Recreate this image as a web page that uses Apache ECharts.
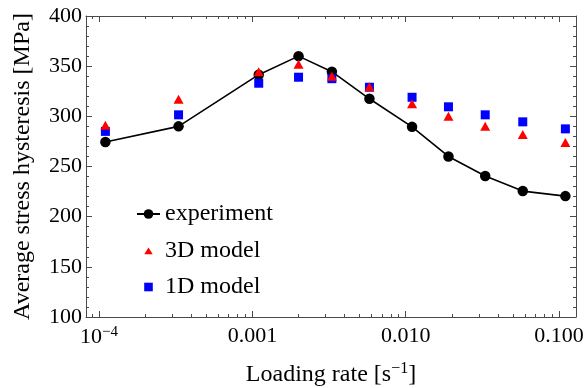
<!DOCTYPE html>
<html>
<head>
<meta charset="utf-8">
<script src="https://cdn.jsdelivr.net/npm/echarts@6/dist/echarts.min.js"></script>
<style>html,body{margin:0;padding:0;background:#fff}#c{width:587px;height:388px}</style>
</head>
<body>
<div id="c"></div>
<script>
const loadingRates = [1.1e-4, 3.3e-4, 1.1e-3, 2.0e-3, 3.3e-3, 5.8e-3, 1.1e-2, 1.9e-2, 3.3e-2, 5.8e-2, 0.11];
const experiment = [274.5, 290, 341.5, 360, 344.5, 317.5, 289.5, 260, 240.5, 225.5, 220.5];
const model3D = [291, 317, 344.5, 352, 340, 329.5, 312.5, 300, 290, 282, 274];
const model1D = [285, 301.5, 333, 339, 337.5, 329, 319, 309.5, 301.5, 294.5, 287.5];
const majorTicksX = [1e-4, 1e-3, 1e-2, 1e-1];
const majorTickLabels = ['10{sup|−4}', '0.001', '0.010', '0.100'];
const minorTicksX = [9e-5, 2e-4, 3e-4, 4e-4, 5e-4, 6e-4, 7e-4, 8e-4, 9e-4,
  2e-3, 3e-3, 4e-3, 5e-3, 6e-3, 7e-3, 8e-3, 9e-3,
  2e-2, 3e-2, 4e-2, 5e-2, 6e-2, 7e-2, 8e-2, 9e-2];

const pair = (xs, ys) => xs.map((x, i) => [x, ys[i]]);
const FONT = 'Liberation Serif';
const frameColor = '#4a4a4a';
const xMin = 8.22e-5, xMax = 0.129;

function xAxisDef(pos, major, withLabels) {
  return {
    type: 'log', logBase: 10, min: xMin, max: xMax, position: pos,
    axisLine: {show: major, onZero: false, lineStyle: {color: frameColor, width: 1}},
    axisTick: {show: true, inside: true, length: major ? 6 : 3, customValues: major ? majorTicksX : minorTicksX,
      lineStyle: {color: frameColor, width: 1}},
    axisLabel: withLabels ? {
      show: true, customValues: majorTicksX, margin: 8, color: '#000', fontFamily: FONT, fontSize: 22,
      formatter: v => majorTickLabels[Math.round(Math.log10(v)) + 4],
      rich: {sup: {fontFamily: FONT, fontSize: 15, verticalAlign: 'bottom', padding: [0, 0, 10, 0], color: '#000'}}
    } : {show: false},
    splitLine: {show: false},
    name: withLabels ? 'Loading rate [s{sup|−1}]' : '',
    nameLocation: 'middle', nameGap: 44,
    nameTextStyle: {fontFamily: FONT, fontSize: 24, color: '#000',
      rich: {sup: {fontFamily: FONT, fontSize: 16, verticalAlign: 'bottom', padding: [0, 0, 12, 0], color: '#000'}}}
  };
}

function yAxisDef(pos, withLabels) {
  return {
    type: 'value', min: 100, max: 400, interval: 50, position: pos,
    axisLine: {show: true, lineStyle: {color: frameColor, width: 1}},
    axisTick: {show: true, inside: true, length: 6, lineStyle: {color: frameColor}},
    minorTick: {show: true, splitNumber: 5, length: 3, lineStyle: {color: frameColor}},
    axisLabel: {show: withLabels, margin: 4, color: '#000', fontFamily: FONT, fontSize: 22},
    splitLine: {show: false},
    name: withLabels ? 'Average stress hysteresis [MPa]' : '',
    nameLocation: 'middle', nameGap: 51,
    nameTextStyle: {fontFamily: FONT, fontSize: 24, color: '#000'}
  };
}

const triIcon = 'path://M-6,-6M6,6M0,-3L4.2,3.8L-4.2,3.8Z';
const sqIcon = 'path://M-6,-6M6,6M-4.3,-4.3L4.3,-4.3L4.3,4.3L-4.3,4.3Z';

const chart = echarts.init(document.getElementById('c'), null, {renderer: 'canvas'});
chart.setOption({
  animation: false,
  backgroundColor: '#fff',
  grid: {left: 86, top: 16, right: 11, bottom: 71, containLabel: false, outerBoundsMode: 'none'},
  xAxis: [xAxisDef('bottom', true, true), xAxisDef('bottom', false, false),
          xAxisDef('top', true, false), xAxisDef('top', false, false)],
  yAxis: [yAxisDef('left', true), yAxisDef('right', false)],
  legend: {
    orient: 'vertical', left: 131, top: 197, itemGap: 12.5, itemWidth: 23, itemHeight: 12,
    symbolKeepAspect: true,
    textStyle: {fontFamily: FONT, fontSize: 24, color: '#000'},
    data: [
      {name: 'experiment'},
      {name: '3D model', icon: triIcon},
      {name: '1D model', icon: sqIcon}
    ]
  },
  series: [
    {name: 'experiment', type: 'line', data: pair(loadingRates, experiment),
     symbol: 'circle', symbolSize: 10.5, itemStyle: {color: '#000', opacity: 1},
     lineStyle: {color: '#000', width: 1.6}, z: 2},
    {name: '1D model', type: 'scatter', data: pair(loadingRates, model1D),
     symbol: 'rect', symbolSize: 9, itemStyle: {color: '#0000ff', opacity: 1}, z: 3},
    {name: '3D model', type: 'scatter', data: pair(loadingRates, model3D),
     symbol: 'triangle', symbolSize: [10, 9], itemStyle: {color: '#ff0000', opacity: 1}, z: 4}
  ]
});
</script>
</body>
</html>
